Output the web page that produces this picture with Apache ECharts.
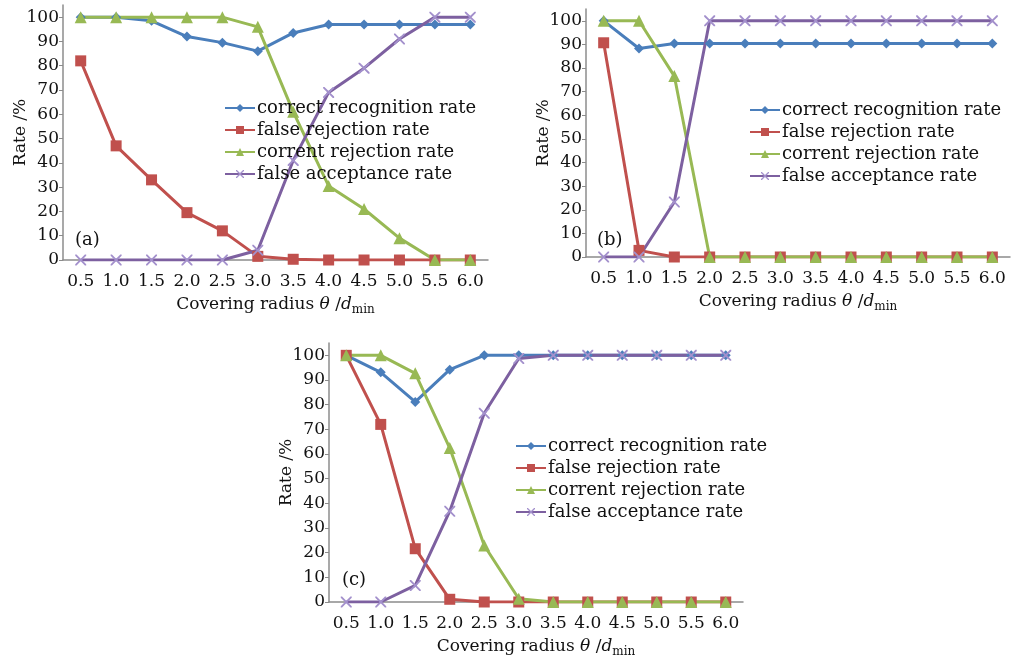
<!DOCTYPE html>
<html>
<head>
<meta charset="utf-8">
<script src="https://cdn.jsdelivr.net/npm/echarts@6/dist/echarts.min.js"></script>
<style>
  html, body { margin: 0; padding: 0; background: #fff; }
  #chart { width: 1011px; height: 659px; }
</style>
</head>
<body>
<div id="chart"></div>
<script>
// covering radius theta / d_min
const radius = ['0.5', '1.0', '1.5', '2.0', '2.5', '3.0', '3.5', '4.0', '4.5', '5.0', '5.5', '6.0']
const seriesNames = ['correct recognition rate', 'false rejection rate', 'corrent rejection rate', 'false acceptance rate']
const rateTicks = [0, 10, 20, 30, 40, 50, 60, 70, 80, 90, 100]

// (a)
const aCorrectRecog = [100, 100, 98.5, 92, 89.5, 86, 93.5, 97, 97, 97, 97, 97]
const aFalseReject = [82, 47, 33, 19.5, 12, 1.5, 0.3, 0, 0, 0, 0, 0]
const aCorrectReject = [100, 100, 100, 100, 100, 96, 61, 30.5, 21, 9, 0, 0]
const aFalseAccept = [0, 0, 0, 0, 0, 4, 41, 69, 79, 91, 100, 100]
// (b)
const bCorrectRecog = [100, 88.3, 90.4, 90.4, 90.4, 90.4, 90.4, 90.4, 90.4, 90.4, 90.4, 90.4]
const bFalseReject = [90.7, 2.8, 0, 0, 0, 0, 0, 0, 0, 0, 0, 0]
const bCorrectReject = [100, 100, 76.6, 0, 0, 0, 0, 0, 0, 0, 0, 0]
const bFalseAccept = [0, 0, 23.3, 100, 100, 100, 100, 100, 100, 100, 100, 100]
// (c)
const cCorrectRecog = [100, 93.1, 81.1, 94.2, 100, 100, 100, 100, 100, 100, 100, 100]
const cFalseReject = [100, 72, 21.6, 1.1, 0, 0, 0, 0, 0, 0, 0, 0]
const cCorrectReject = [100, 100, 92.7, 62.4, 22.9, 1.3, 0, 0, 0, 0, 0, 0]
const cFalseAccept = [0, 0, 6.7, 36.8, 76.5, 98.7, 100, 100, 100, 100, 100, 100]

const FONT = 'DejaVu Serif'
const AXIS_GRAY = '#8c8c8c'
const colors = ['#4a7ebb', '#c0504d', '#98b954', '#7d60a0']
const crossPath = 'path://M0,0L1.2,0L5,3.8L8.8,0L10,0L10,1.2L6.2,5L10,8.8L10,10L8.8,10L5,6.2L1.2,10L0,10L0,8.8L3.8,5L0,1.2Z'
const symbols = ['diamond', 'rect', 'triangle', crossPath]
const symbolSizes = [10, 11, 12, 11]
const symbolColors = ['#4a7ebb', '#c0504d', '#98b954', '#a390cc']

// y axis runs a little past 100 (to 105), like the original
const panels = [
  { tag: '(a)', data: [aCorrectRecog, aFalseReject, aCorrectReject, aFalseAccept],
    grid: { left: 63, top: 5, width: 425, height: 255 }, legend: { left: 219, top: 94 }, label: { left: 75, top: 231 } },
  { tag: '(b)', data: [bCorrectRecog, bFalseReject, bCorrectReject, bFalseAccept],
    grid: { left: 586, top: 9, width: 424, height: 248 }, legend: { left: 744, top: 96 }, label: { left: 597, top: 231 } },
  { tag: '(c)', data: [cCorrectRecog, cFalseReject, cCorrectReject, cFalseAccept],
    grid: { left: 329, top: 343, width: 414, height: 260 }, legend: { left: 510, top: 432 }, label: { left: 342, top: 571 } },
]

const chart = echarts.init(document.getElementById('chart'))

const grid = []
const xAxis = []
const yAxis = []
const series = []
const legend = []
const title = []

panels.forEach((p, i) => {
  grid.push(Object.assign({ containLabel: false }, p.grid))
  xAxis.push({
    type: 'category',
    gridIndex: i,
    data: radius,
    boundaryGap: true,
    axisLine: { lineStyle: { color: AXIS_GRAY, width: 1.5 } },
    axisTick: { length: 5, lineStyle: { color: AXIS_GRAY } },
    axisLabel: { color: '#111', fontFamily: FONT, fontSize: 17, margin: 13, interval: 0 },
    name: '{n|Covering radius }{i|θ}{n| /}{i|d}{s|min}',
    nameLocation: 'middle',
    nameGap: 33,
    nameMoveOverlap: false,
    nameTextStyle: {
      rich: {
        n: { fontFamily: FONT, fontSize: 17, color: '#111' },
        i: { fontFamily: FONT, fontSize: 17, fontStyle: 'italic', color: '#111' },
        s: { fontFamily: FONT, fontSize: 12, color: '#111', padding: [11, 0, 0, 0] },
      },
    },
  })
  yAxis.push({
    type: 'value',
    gridIndex: i,
    min: 0,
    max: 105,
    splitLine: { show: false },
    axisLine: { show: true, lineStyle: { color: AXIS_GRAY, width: 1.5 } },
    axisTick: { show: true, length: 4, customValues: rateTicks, lineStyle: { color: AXIS_GRAY } },
    axisLabel: { color: '#111', fontFamily: FONT, fontSize: 17, margin: 4, customValues: rateTicks },
    name: 'Rate /%',
    nameLocation: 'middle',
    nameGap: 34,
    nameRotate: 90,
    nameMoveOverlap: false,
    nameTextStyle: { fontFamily: FONT, fontSize: 17, color: '#111' },
  })
  p.data.forEach((vals, k) => {
    series.push({
      name: seriesNames[k],
      type: 'line',
      xAxisIndex: i,
      yAxisIndex: i,
      data: vals,
      symbol: symbols[k],
      symbolSize: symbolSizes[k],
      showAllSymbol: true,
      lineStyle: { color: colors[k], width: 3 },
      itemStyle: { color: symbolColors[k] },
      emphasis: { disabled: true },
      animation: false,
    })
  })
  legend.push(Object.assign({
    orient: 'vertical',
    data: seriesNames,
    itemWidth: 30,
    itemHeight: 10,
    itemGap: 4,
    textStyle: { fontFamily: FONT, fontSize: 18, color: '#111', padding: [0, 0, 0, -3] },
    selectedMode: false,
  }, p.legend))
  title.push(Object.assign({
    text: p.tag,
    textStyle: { fontFamily: FONT, fontSize: 18, fontWeight: 'normal', color: '#111' },
    padding: 0,
  }, p.label))
})

chart.setOption({
  backgroundColor: '#fff',
  animation: false,
  title,
  legend,
  grid,
  xAxis,
  yAxis,
  series,
})
</script>
</body>
</html>
